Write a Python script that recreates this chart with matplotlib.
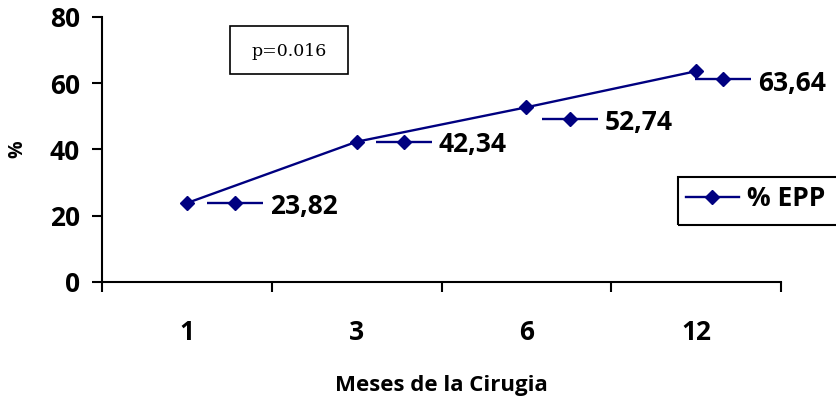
import matplotlib
matplotlib.use("Agg")
import matplotlib.pyplot as plt
from matplotlib.transforms import offset_copy
from matplotlib.patches import Rectangle

months = ["1", "3", "6", "12"]
epp = [23.82, 42.34, 52.74, 63.64]
labels = ["23,82", "42,34", "52,74", "63,64"]
series_name = "% EPP"
p_text = "p=0.016"
yticks = [0, 20, 40, 60, 80]

# manual data-label offsets in pixels (key center, text left)
key_off = [(48, 0), (47, 0), (44, -12), (27, -8)]
txt_off = [(83, 0), (82, 0), (78, -12), (62, -9)]

navy = "#000080"
FONT = "Open Sans"
FS = 19

W, H = 837, 401
fig = plt.figure(figsize=(W / 100, H / 100), dpi=100)
ax = fig.add_axes([102 / W, (H - 282) / H, (781 - 102) / W, (282 - 17) / H])

x = list(range(len(months)))
ax.plot(x, epp, color=navy, lw=1.7, marker="D", ms=7, mfc=navy, mec=navy,
        label=series_name, zorder=3)

ax.set_xlim(-0.5, len(months) - 0.5)
ax.set_ylim(0, 80)
ax.set_yticks(yticks)
ax.set_yticklabels([str(v) for v in yticks], fontsize=FS, fontweight="bold", family=FONT)

# major ticks at category boundaries, labels at centers
ax.set_xticks([i - 0.5 for i in range(len(months) + 1)])
ax.set_xticklabels([])
ax.set_xticks(x, minor=True)
ax.set_xticklabels(months, minor=True, fontsize=FS, fontweight="bold", family=FONT)
ax.tick_params(axis="x", which="minor", length=0, pad=27)
ax.tick_params(axis="x", which="major", length=7, width=1.5, direction="out")
ax.tick_params(axis="y", length=7, width=1.5, direction="out", pad=9)

for s in ["top", "right"]:
    ax.spines[s].set_visible(False)
for s in ["left", "bottom"]:
    ax.spines[s].set_linewidth(1.5)
    ax.spines[s].set_color("black")

ax.set_xlabel("Meses de la Cirugia", fontsize=16, fontweight="bold", family=FONT)
ax.xaxis.label.set_va("center")
ax.xaxis.set_label_coords(0.5, (282 - 385) / 265)
ax.set_ylabel("%", fontsize=14, fontweight="bold", family=FONT)
ax.yaxis.label.set_va("center")
ax.yaxis.set_label_coords((17 - 102) / 679, 0.5)

# data labels with legend keys
for xi, yi, lab, ko, to in zip(x, epp, labels, key_off, txt_off):
    tk = offset_copy(ax.transData, fig=fig, x=ko[0], y=ko[1], units="dots")
    ax.plot([xi], [yi], transform=tk, marker="_", ms=40, mew=1.7, color=navy,
            clip_on=False, zorder=4)
    ax.plot([xi], [yi], transform=tk, marker="D", ms=7, color=navy,
            clip_on=False, zorder=5)
    tt = offset_copy(ax.transData, fig=fig, x=to[0], y=to[1], units="dots")
    ax.text(xi, yi, lab, transform=tt, ha="left", va="center_baseline",
            fontsize=FS, fontweight="bold", family=FONT, clip_on=False)

# p-value box
fig.patches.append(Rectangle((230 / W, 1 - 74 / H), 118 / W, 48 / H,
                             transform=fig.transFigure, fill=False,
                             edgecolor="black", lw=1.2))
fig.text(289 / W, 1 - 51 / H, p_text, ha="center", va="center",
         fontsize=12.5, family="DejaVu Serif")

# legend (frame drawn separately; it runs past the right edge)
leg = ax.legend(loc="upper left", bbox_to_anchor=(678 / W, 1 - 177 / H),
                bbox_transform=fig.transFigure, borderaxespad=0,
                frameon=False,
                prop={"family": FONT, "weight": "bold", "size": FS},
                handlelength=2.0, handletextpad=0.3, borderpad=0.3,
                numpoints=1)
fig.patches.append(Rectangle((678 / W, 1 - 225 / H), 180 / W, 48 / H,
                             transform=fig.transFigure, fill=False,
                             edgecolor="black", lw=1.5))

fig.savefig("out.png", dpi=100)
